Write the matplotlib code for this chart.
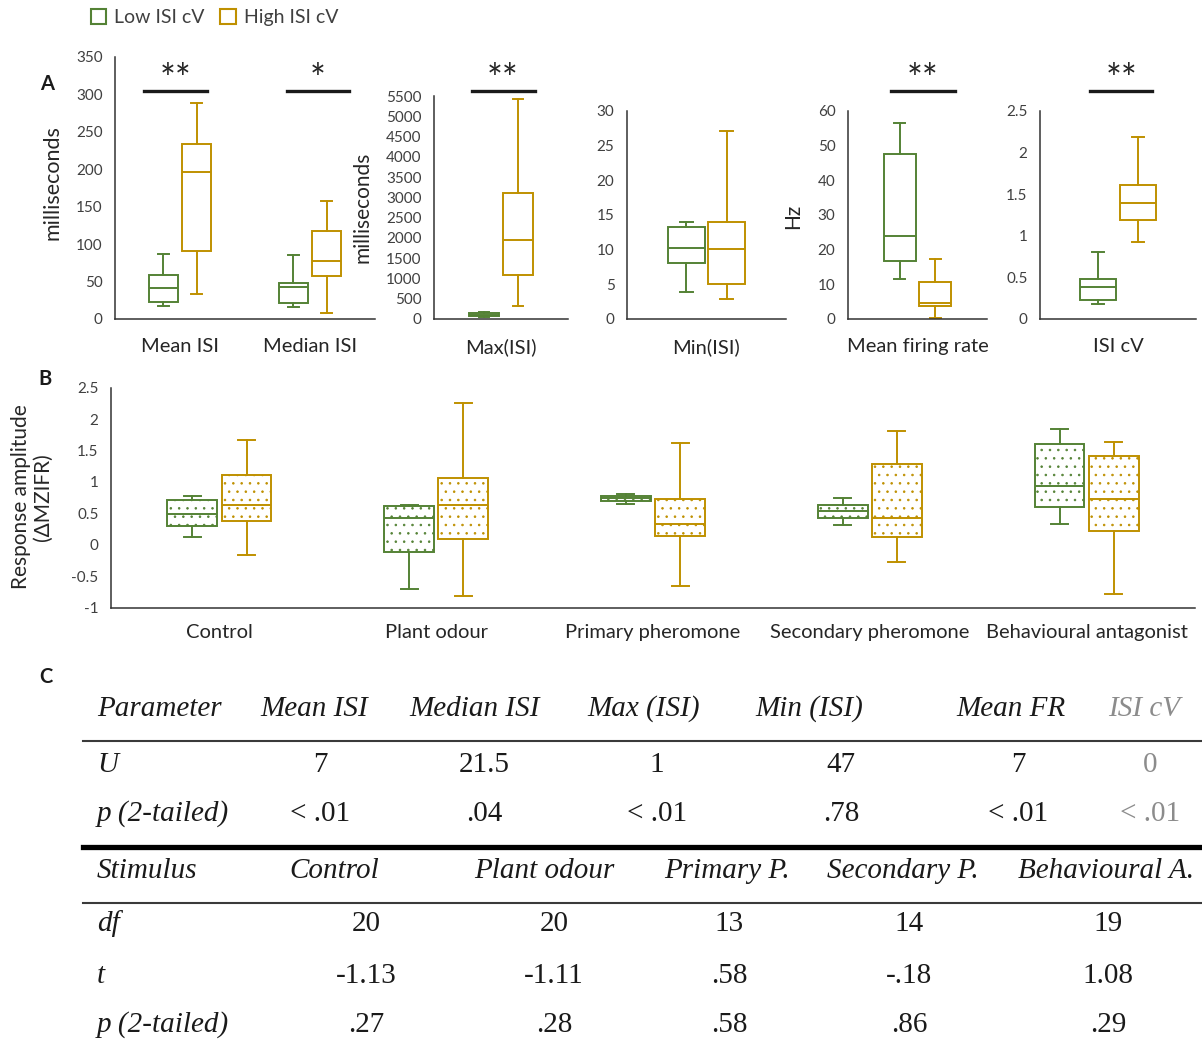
import matplotlib
matplotlib.use('Agg')
import matplotlib.pyplot as plt
from matplotlib.patches import Patch
from matplotlib.lines import Line2D
from matplotlib.ticker import MultipleLocator, FuncFormatter
import matplotlib.transforms as mtransforms

plt.rcParams['font.family'] = ['Lato', 'DejaVu Sans']
plt.rcParams['hatch.linewidth'] = 0.6

W, H = 1202, 1041
fig = plt.figure(figsize=(W / 100, H / 100), dpi=100)

GREEN = '#548235'
GOLD = '#BF9000'
AXC = '#333333'
TXT = '#404040'

# ---------------- Panel A data ----------------
metrics = ['Mean ISI', 'Median ISI', 'Max(ISI)', 'Min(ISI)', 'Mean firing rate', 'ISI cV']
low_whislo = [18, 16, 45, 3.9, 11.5, 0.18]
low_q1 = [23, 22, 65, 8.1, 16.7, 0.23]
low_med = [42, 43, 110, 10.3, 24.0, 0.39]
low_q3 = [59, 48, 150, 13.3, 47.7, 0.48]
low_whishi = [87, 85, 170, 14.0, 56.6, 0.80]
high_whislo = [33, 8, 330, 2.9, 0.2, 0.92]
high_q1 = [91, 57, 1085, 5.0, 3.75, 1.19]
high_med = [197, 77, 1950, 10.1, 4.7, 1.39]
high_q3 = [234, 117, 3100, 14.0, 10.6, 1.61]
high_whishi = [288, 158, 5430, 27.1, 17.2, 2.19]
sig_stars = ['**', '*', '**', '', '**', '**']
sig_left = [-0.28, -0.18, -0.22, 0, -0.19, -0.18]
sig_right = [0.21, 0.30, 0.25, 0, 0.27, 0.22]

# ---------------- Panel B data ----------------
stimuli = ['Control', 'Plant odour', 'Primary pheromone', 'Secondary pheromone', 'Behavioural antagonist']
b_low_whislo = [0.12, -0.71, 0.65, 0.32, 0.33]
b_low_q1 = [0.30, -0.11, 0.69, 0.43, 0.60]
b_low_med = [0.49, 0.43, 0.74, 0.53, 0.93]
b_low_q3 = [0.71, 0.62, 0.78, 0.64, 1.60]
b_low_whishi = [0.78, 0.63, 0.80, 0.75, 1.84]
b_high_whislo = [-0.17, -0.82, -0.66, -0.28, -0.79]
b_high_q1 = [0.37, 0.09, 0.14, 0.12, 0.22]
b_high_med = [0.64, 0.64, 0.33, 0.43, 0.73]
b_high_q3 = [1.11, 1.07, 0.73, 1.28, 1.42]
b_high_whishi = [1.67, 2.26, 1.62, 1.81, 1.64]

# ---------------- Panel C data ----------------
param_headers = ['Parameter', 'Mean ISI', 'Median ISI', 'Max (ISI)', 'Min (ISI)', 'Mean FR', 'ISI cV']
U_values = ['7', '21.5', '1', '47', '7', '0']
U_p_values = ['< .01', '.04', '< .01', '.78', '< .01', '< .01']
stim_headers = ['Stimulus', 'Control', 'Plant odour', 'Primary P.', 'Secondary P.', 'Behavioural A.']
df_values = ['20', '20', '13', '14', '19']
t_values = ['-1.13', '-1.11', '.58', '-.18', '1.08']
t_p_values = ['.27', '.28', '.58', '.86', '.29']


def rect(l, r, t, b):
    return [l / W, 1 - b / H, (r - l) / W, (b - t) / H]


def fy(y):
    return 1 - y / H


def fx(x):
    return x / W


def stat(lo, q1, med, q3, hi):
    return dict(whislo=lo, q1=q1, med=med, q3=q3, whishi=hi, fliers=[])


def draw_boxes(ax, positions, stats, color, hatch=None, width=0.23):
    lw = 1.4
    ax.bxp(stats, positions=positions, widths=width, capwidths=width * 0.34,
           patch_artist=True, showfliers=False, manage_ticks=False,
           boxprops=dict(facecolor='white', edgecolor=color, linewidth=lw, hatch=hatch),
           whiskerprops=dict(color=color, linewidth=lw),
           capprops=dict(color=color, linewidth=lw),
           medianprops=dict(color=color, linewidth=lw))


def style_axes(ax, ytick_step, xlabel_pad):
    for s in ['top', 'right']:
        ax.spines[s].set_visible(False)
    for s in ['left', 'bottom']:
        ax.spines[s].set_color(AXC)
        ax.spines[s].set_linewidth(1.1)
    ax.yaxis.set_major_locator(MultipleLocator(ytick_step))
    ax.yaxis.set_major_formatter(FuncFormatter(lambda v, p: '%g' % round(v, 6)))
    ax.tick_params(axis='y', length=0, pad=9, labelsize=11, labelcolor=TXT)
    ax.tick_params(axis='x', length=0, pad=xlabel_pad, labelsize=14.5, labelcolor='#262626')


# ---------------- Panel A ----------------
a_rects = [rect(115, 375, 57, 319), rect(434, 568, 96, 319), rect(627, 786, 111, 319),
           rect(848, 987, 111, 319), rect(1040, 1196, 111, 319)]
a_groups = [[0, 1], [2], [3], [4], [5]]
a_ylims = [350, 5500, 30, 60, 2.5]
a_steps = [50, 500, 5, 10, 0.5]
off = 0.127
for rc, grp, ymax, step in zip(a_rects, a_groups, a_ylims, a_steps):
    ax = fig.add_axes(rc)
    n = len(grp)
    centers = [i + 0.5 for i in range(n)]
    lows = [stat(low_whislo[g], low_q1[g], low_med[g], low_q3[g], low_whishi[g]) for g in grp]
    highs = [stat(high_whislo[g], high_q1[g], high_med[g], high_q3[g], high_whishi[g]) for g in grp]
    draw_boxes(ax, [c - off for c in centers], lows, GREEN)
    draw_boxes(ax, [c + off for c in centers], highs, GOLD)
    ax.set_xlim(0, n)
    ax.set_ylim(0, ymax)
    ax.set_xticks(centers)
    ax.set_xticklabels([metrics[g] for g in grp])
    style_axes(ax, step, 13.5)
    tr = mtransforms.blended_transform_factory(ax.transData, fig.transFigure)
    for c, g in zip(centers, grp):
        if sig_stars[g]:
            x0, x1 = c + sig_left[g], c + sig_right[g]
            ax.add_line(Line2D([x0, x1], [fy(91), fy(91)], transform=tr, color='#1a1a1a',
                               lw=2.4, clip_on=False))
            ax.text((x0 + x1) / 2, fy(92), sig_stars[g], transform=tr, ha='center',
                    va='baseline', fontsize=27, color='#262626', clip_on=False)

fig.text(fx(52), fy(183), 'milliseconds', rotation=90, ha='center', va='center', fontsize=15.5, color='#262626')
fig.text(fx(362), fy(207), 'milliseconds', rotation=90, ha='center', va='center', fontsize=15, color='#262626')
fig.text(fx(793), fy(216), 'Hz', rotation=90, ha='center', va='center', fontsize=15, color='#262626')

# ---------------- Panel B ----------------
axB = fig.add_axes(rect(111, 1195, 387.7, 607.5))
nB = len(stimuli)
cB = [i + 0.5 for i in range(nB)]
draw_boxes(axB, [c - 0.125 for c in cB],
           [stat(*v) for v in zip(b_low_whislo, b_low_q1, b_low_med, b_low_q3, b_low_whishi)],
           GREEN, hatch='..')
draw_boxes(axB, [c + 0.125 for c in cB],
           [stat(*v) for v in zip(b_high_whislo, b_high_q1, b_high_med, b_high_q3, b_high_whishi)],
           GOLD, hatch='..')
axB.set_xlim(0, nB)
axB.set_ylim(-1, 2.5)
axB.set_xticks(cB)
axB.set_xticklabels(stimuli)
style_axes(axB, 0.5, 12)
fig.text(fx(32), fy(497), 'Response amplitude\n(\u0394MZIFR)', rotation=90, ha='center', va='center',
         fontsize=15, color='#262626', multialignment='center', linespacing=1.15)

# ---------------- Legend ----------------
handles = [Patch(facecolor='white', edgecolor=GREEN, linewidth=1.5, label='Low ISI cV'),
           Patch(facecolor='white', edgecolor=GOLD, linewidth=1.5, label='High ISI cV')]
fig.legend(handles=handles, loc='upper left', bbox_to_anchor=(fx(87), fy(5)), ncol=2, frameon=False,
           fontsize=14, handlelength=0.8, handleheight=0.8, handletextpad=0.4,
           columnspacing=0.8, borderpad=0.2, borderaxespad=0, labelcolor=TXT)

# ---------------- Panel labels ----------------
for lab, x, y in [('A', 40, 90), ('B', 38, 385), ('C', 39, 683)]:
    fig.text(fx(x), fy(y), lab, fontsize=14.5, fontweight='bold', color='#1a1a1a', va='baseline')

# ---------------- Panel C (table) ----------------
SERIF = ['Liberation Serif', 'DejaVu Serif']
TFS = 21
GRAY = '#8c8c8c'


def ttext(x, y, s, italic=False, ha='center', color='#1a1a1a'):
    fig.text(fx(x), fy(y), s, ha=ha, va='baseline', fontsize=TFS, family=SERIF,
             style='italic' if italic else 'normal', color=color)


hdr_x = [314, 475, 644, 809, 1011, 1144]
val_x = [320, 484, 657, 841, 1018, 1150]
ttext(97, 716, param_headers[0], italic=True, ha='left')
for i, (s, x) in enumerate(zip(param_headers[1:], hdr_x)):
    ttext(x, 716, s, italic=True, color=GRAY if i == 5 else '#1a1a1a')
ttext(97, 772, 'U', italic=True, ha='left')
ttext(97, 821, 'p (2-tailed)', italic=True, ha='left')
for i, (u, p, x) in enumerate(zip(U_values, U_p_values, val_x)):
    col = GRAY if i == 5 else '#1a1a1a'
    ttext(x, 772, u, color=col)
    ttext(x, 821, p, color=col)

stim_x = [334, 544, 727, 903, 1106]
sval_x = [366, 554, 729, 909, 1108]
ttext(97, 878, stim_headers[0], italic=True, ha='left')
for s, x in zip(stim_headers[1:], stim_x):
    ttext(x, 878, s, italic=True)
ttext(97, 931, 'df', italic=True, ha='left')
ttext(97, 983, 't', italic=True, ha='left')
ttext(97, 1032, 'p (2-tailed)', italic=True, ha='left')
for d, t, p, x in zip(df_values, t_values, t_p_values, sval_x):
    ttext(x, 931, d)
    ttext(x, 983, t)
    ttext(x, 1032, p)

for y, lw, col in [(741, 1.5, '#3a3a3a'), (847, 3.8, '#000000'), (903, 1.5, '#3a3a3a')]:
    fig.add_artist(Line2D([fx(83), 1.0], [fy(y), fy(y)], lw=lw, color=col))

fig.savefig('out.png', dpi=100)
